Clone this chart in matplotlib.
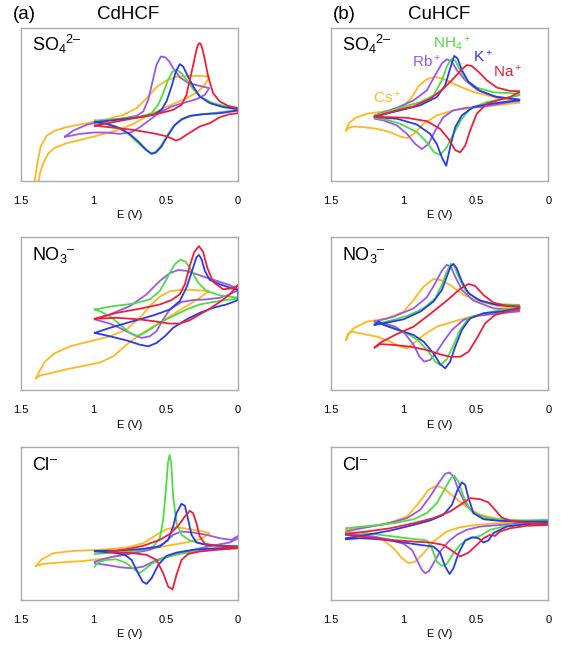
import matplotlib
matplotlib.use("Agg")
import matplotlib.pyplot as plt

# CVs: (E in V, current in a.u., 0-100 = box height)
# each list runs along the upper branch and back along the lower branch

# (a) CdHCF, sulfate
cd_so4_cs = [(1.41,-3.0),(1.387,11.6),(1.364,22.5),(1.323,29.5),(1.265,33.0),(1.185,35.2),(1.047,37.8),(0.909,40.4),(0.794,43.2),(0.702,47.6),(0.633,54.1),(0.564,61.4),(0.495,65.7),(0.426,68.1),(0.334,68.8),(0.242,68.6),(0.2,68.3),(0.2,67.9),(0.23,62.9),(0.276,58.5),(0.357,54.1),(0.449,50.4),(0.541,46.5),(0.633,42.1),(0.725,37.3),(0.84,33.0),(0.955,30.1),(1.07,27.3),(1.185,24.7),(1.265,21.8),(1.311,18.1),(1.346,11.6),(1.369,5.0),(1.382,-3.0)]
cd_so4_rb = [(1.196,29.0),(1.139,33.0),(1.047,36.7),(0.932,39.3),(0.794,41.0),(0.702,42.6),(0.656,45.4),(0.621,53.1),(0.591,65.1),(0.564,76.0),(0.534,81.4),(0.506,81.0),(0.476,78.2),(0.449,73.8),(0.403,67.9),(0.345,64.0),(0.265,62.2),(0.2,60.7),(0.23,56.3),(0.288,53.5),(0.368,51.3),(0.46,48.7),(0.541,44.8),(0.61,40.0),(0.679,35.2),(0.736,31.9),(0.817,30.8),(0.909,31.7),(1.0,31.7),(1.093,30.8),(1.162,29.5),(1.196,29.0)]
cd_so4_nh4 = [(0.99,39.5),(0.84,40.4),(0.68,42.1),(0.598,44.3),(0.552,49.8),(0.518,57.4),(0.483,66.2),(0.453,71.6),(0.426,72.7),(0.391,70.5),(0.357,66.2),(0.31,60.0),(0.253,54.6),(0.173,50.9),(0.081,48.7),(0.0,47.4),(0.0,46.5),(0.104,45.2),(0.219,43.9),(0.322,42.6),(0.391,40.0),(0.449,35.6),(0.495,29.0),(0.536,22.5),(0.575,18.8),(0.605,18.1),(0.644,20.7),(0.702,25.8),(0.759,30.8),(0.84,35.6),(0.932,38.4),(0.99,39.5)]
cd_so4_k = [(0.99,38.4),(0.84,40.0),(0.68,41.7),(0.587,43.2),(0.53,46.5),(0.495,52.0),(0.46,61.8),(0.43,71.6),(0.403,76.4),(0.38,74.9),(0.352,69.4),(0.31,61.8),(0.265,55.2),(0.196,50.9),(0.104,48.3),(0.0,46.9),(0.0,46.1),(0.127,44.3),(0.242,43.7),(0.334,42.6),(0.39,40.4),(0.437,36.7),(0.483,30.1),(0.53,22.5),(0.568,18.6),(0.598,17.7),(0.633,20.3),(0.69,25.8),(0.748,30.6),(0.817,34.5),(0.909,37.3),(0.99,38.4)]
cd_so4_na = [(0.99,36.2),(0.84,38.9),(0.68,41.7),(0.54,44.3),(0.45,46.5),(0.39,49.8),(0.357,56.3),(0.334,66.2),(0.31,76.0),(0.288,85.8),(0.276,89.3),(0.265,90.2),(0.255,89.0),(0.243,85.0),(0.23,79.3),(0.207,68.3),(0.173,57.4),(0.127,52.0),(0.069,49.1),(0.0,47.6),(0.0,44.3),(0.058,43.7),(0.127,41.7),(0.196,37.8),(0.265,35.6),(0.322,32.3),(0.368,29.5),(0.403,27.3),(0.43,26.4),(0.46,27.9),(0.506,29.5),(0.587,31.2),(0.725,33.4),(0.863,34.9),(0.99,36.2)]

# (a) CdHCF, nitrate
cd_no3_cs = [(1.396,7.7),(1.373,12.1),(1.334,18.7),(1.265,24.2),(1.162,28.6),(1.024,31.9),(0.886,35.2),(0.771,39.6),(0.679,47.3),(0.61,54.9),(0.541,61.1),(0.472,64.6),(0.403,65.5),(0.311,65.5),(0.2,64.8),(0.265,60.4),(0.357,54.9),(0.449,49.5),(0.564,42.9),(0.679,36.3),(0.771,29.7),(0.863,22.0),(0.955,18.0),(1.07,15.8),(1.185,13.6),(1.30,11.0),(1.369,9.5),(1.396,7.7)]
cd_no3_rb = [(0.99,46.6),(0.886,49.5),(0.748,54.9),(0.633,62.6),(0.541,71.4),(0.472,76.5),(0.414,78.5),(0.357,78.0),(0.288,75.8),(0.219,73.6),(0.127,70.8),(0.058,68.6),(0.0,65.9),(0.0,65.5),(0.058,62.6),(0.127,60.4),(0.219,59.3),(0.311,58.9),(0.391,57.6),(0.472,52.7),(0.518,46.2),(0.564,38.5),(0.61,35.2),(0.667,34.1),(0.725,36.3),(0.794,39.6),(0.886,43.5),(0.99,46.2)]
cd_no3_nh4 = [(0.99,52.7),(0.863,54.9),(0.725,56.5),(0.61,59.3),(0.541,64.8),(0.483,74.7),(0.437,82.4),(0.398,85.3),(0.363,84.0),(0.322,78.0),(0.276,70.3),(0.219,64.8),(0.127,62.0),(0.0,60.4),(0.0,59.8),(0.081,58.9),(0.173,57.6),(0.265,56.0),(0.357,52.7),(0.449,48.4),(0.541,44.0),(0.61,39.6),(0.667,36.3),(0.702,35.6),(0.748,37.4),(0.817,42.9),(0.886,48.4),(0.955,51.6),(0.99,52.7)]
cd_no3_k = [(0.99,37.4),(0.886,40.7),(0.725,45.1),(0.587,48.8),(0.472,52.7),(0.403,58.2),(0.357,67.0),(0.322,76.9),(0.288,86.8),(0.271,88.4),(0.253,85.7),(0.23,78.0),(0.196,72.1),(0.127,69.2),(0.058,67.0),(0.0,65.5),(0.0,58.9),(0.081,56.0),(0.173,53.8),(0.265,50.5),(0.357,46.2),(0.449,40.7),(0.506,35.2),(0.564,30.8),(0.621,28.6),(0.679,29.7),(0.771,32.5),(0.886,35.2),(0.99,37.4)]
cd_no3_na = [(0.99,46.6),(0.84,50.5),(0.68,53.2),(0.54,56.0),(0.46,58.9),(0.403,62.6),(0.368,69.2),(0.334,81.3),(0.304,90.1),(0.271,94.1),(0.242,90.5),(0.214,80.2),(0.173,70.8),(0.104,65.9),(0.035,66.6),(0.0,68.6),(0.058,62.6),(0.127,57.6),(0.196,53.2),(0.265,49.5),(0.334,45.7),(0.403,43.5),(0.472,43.5),(0.564,44.8),(0.679,46.2),(0.84,47.3),(0.99,46.6)]

# (a) CdHCF, chloride
cd_cl_cs = [(1.396,22.3),(1.357,26.6),(1.277,30.6),(1.139,32.1),(0.955,32.8),(0.771,34.3),(0.656,37.1),(0.564,42.6),(0.495,46.3),(0.426,47.6),(0.334,46.3),(0.242,44.8),(0.2,43.7),(0.2,43.2),(0.265,39.7),(0.357,37.6),(0.495,35.4),(0.633,32.8),(0.771,30.1),(0.909,27.3),(1.07,25.5),(1.231,24.5),(1.346,23.6),(1.396,22.3)]
cd_cl_rb = [(0.99,25.1),(0.886,27.9),(0.725,30.6),(0.61,32.8),(0.518,36.7),(0.449,42.6),(0.391,44.8),(0.311,44.1),(0.219,42.6),(0.127,40.4),(0.046,39.3),(0.0,41.9),(0.0,40.4),(0.058,37.6),(0.15,36.0),(0.265,33.8),(0.38,31.0),(0.495,28.4),(0.587,25.1),(0.656,21.8),(0.725,20.7),(0.817,21.4),(0.909,22.9),(0.99,24.0)]
cd_cl_nh4 = [(0.99,30.1),(0.84,31.0),(0.68,32.3),(0.587,34.9),(0.541,40.4),(0.518,52.4),(0.499,72.0),(0.485,89.5),(0.474,94.8),(0.462,89.5),(0.449,67.7),(0.426,50.2),(0.391,42.6),(0.334,38.9),(0.242,36.7),(0.127,35.6),(0.0,35.4),(0.0,34.3),(0.127,33.4),(0.265,32.1),(0.403,30.1),(0.518,27.3),(0.598,23.6),(0.656,19.2),(0.683,17.5),(0.713,19.7),(0.771,24.0),(0.84,26.6),(0.909,26.2),(0.955,25.1),(0.978,23.6),(0.99,21.8)]
cd_cl_k = [(0.99,32.1),(0.84,32.3),(0.68,33.2),(0.541,34.9),(0.483,39.3),(0.449,48.0),(0.426,56.8),(0.391,62.9),(0.368,61.6),(0.345,52.4),(0.322,42.6),(0.288,37.6),(0.219,36.0),(0.104,35.4),(0.0,34.9),(0.0,34.3),(0.15,33.8),(0.311,32.8),(0.426,31.0),(0.495,28.8),(0.552,22.9),(0.598,14.2),(0.633,10.5),(0.66,12.0),(0.697,18.6),(0.736,26.2),(0.782,29.5),(0.863,31.0),(0.99,31.7)]
cd_cl_na = [(0.90,31.4),(0.771,33.2),(0.656,35.4),(0.541,39.3),(0.472,43.2),(0.414,48.5),(0.368,54.6),(0.334,58.3),(0.311,56.8),(0.288,50.2),(0.265,41.5),(0.23,36.7),(0.15,35.4),(0.0,34.5),(0.0,33.8),(0.15,32.8),(0.265,31.7),(0.345,30.1),(0.391,26.2),(0.426,16.4),(0.453,7.0),(0.483,8.7),(0.518,17.5),(0.564,26.2),(0.633,29.5),(0.725,30.6),(0.817,31.0),(0.90,31.4)]

# (b) CuHCF, sulfate
cu_so4_cs = [(1.397,33.0),(1.378,37.8),(1.332,41.3),(1.252,44.0),(1.114,45.7),(0.999,48.8),(0.942,54.9),(0.896,62.0),(0.839,66.6),(0.781,68.1),(0.712,66.4),(0.632,62.6),(0.517,58.2),(0.379,54.9),(0.2,51.6),(0.2,51.2),(0.356,49.5),(0.517,47.9),(0.655,46.2),(0.77,42.9),(0.861,37.4),(0.93,30.8),(0.976,28.1),(1.022,29.0),(1.091,31.9),(1.183,34.1),(1.275,35.2),(1.344,35.6),(1.378,34.7),(1.397,33.0)]
cu_so4_rb = [(1.199,42.9),(1.045,47.9),(0.93,52.7),(0.839,59.3),(0.781,69.2),(0.735,76.9),(0.701,79.6),(0.666,78.0),(0.632,72.5),(0.574,65.9),(0.494,59.8),(0.379,55.4),(0.2,53.2),(0.2,52.7),(0.333,50.5),(0.471,48.4),(0.563,47.9),(0.655,46.2),(0.724,41.8),(0.781,33.0),(0.827,24.2),(0.873,20.9),(0.919,24.2),(0.976,30.8),(1.045,36.3),(1.137,39.6),(1.199,40.7)]
cu_so4_nh4 = [(1.199,42.6),(1.045,47.3),(0.884,51.6),(0.793,56.0),(0.735,65.9),(0.701,74.7),(0.673,79.6),(0.643,78.7),(0.609,72.5),(0.563,65.9),(0.494,61.1),(0.379,58.0),(0.2,57.1),(0.2,56.0),(0.287,54.3),(0.425,51.6),(0.54,47.3),(0.597,40.7),(0.655,30.8),(0.701,22.0),(0.747,17.1),(0.788,18.7),(0.839,25.3),(0.907,31.9),(1.022,37.4),(1.114,40.0),(1.199,41.3)]
cu_so4_k = [(1.199,42.2),(1.045,45.7),(0.884,49.5),(0.77,54.9),(0.712,62.6),(0.678,73.6),(0.65,81.8),(0.627,80.2),(0.597,72.5),(0.551,64.8),(0.471,58.9),(0.356,54.9),(0.2,53.2),(0.2,52.7),(0.31,51.6),(0.425,50.1),(0.517,48.4),(0.597,42.9),(0.643,35.2),(0.678,22.0),(0.705,9.9),(0.735,15.4),(0.77,24.2),(0.816,30.8),(0.907,36.9),(1.045,40.7),(1.199,41.8)]
cu_so4_na = [(1.199,41.8),(1.045,46.2),(0.93,48.8),(0.816,53.8),(0.724,60.4),(0.655,67.0),(0.597,73.0),(0.563,75.8),(0.528,75.2),(0.482,71.4),(0.425,65.9),(0.356,61.1),(0.264,58.9),(0.2,58.7),(0.2,58.2),(0.264,54.9),(0.333,53.2),(0.425,50.5),(0.494,44.0),(0.54,33.0),(0.574,23.1),(0.609,18.7),(0.643,20.2),(0.689,27.5),(0.747,34.1),(0.839,39.1),(0.976,41.3),(1.114,41.8),(1.199,41.8)]

# (b) CuHCF, nitrate
cu_no3_cs = [(1.397,32.8),(1.378,37.1),(1.344,40.4),(1.252,44.8),(1.114,46.9),(0.999,51.3),(0.93,59.0),(0.861,67.7),(0.793,72.7),(0.747,72.0),(0.678,68.8),(0.586,62.2),(0.471,57.9),(0.333,54.6),(0.2,53.5),(0.2,52.4),(0.356,50.7),(0.517,48.5),(0.655,44.8),(0.77,41.5),(0.861,36.0),(0.93,30.6),(0.976,27.3),(1.022,28.4),(1.091,31.7),(1.183,34.9),(1.298,37.1),(1.355,38.2),(1.383,36.7),(1.397,32.8)]
cu_no3_rb = [(1.199,44.8),(1.068,48.0),(0.93,53.5),(0.839,60.7),(0.781,69.9),(0.735,78.2),(0.701,81.9),(0.673,80.8),(0.643,74.2),(0.597,65.5),(0.517,58.5),(0.379,53.5),(0.2,52.0),(0.2,51.5),(0.333,50.2),(0.494,48.5),(0.586,45.9),(0.666,39.3),(0.724,31.7),(0.77,25.1),(0.816,19.7),(0.857,18.6),(0.889,21.8),(0.93,29.5),(0.988,36.7),(1.057,41.5),(1.137,43.7),(1.199,44.8)]
cu_no3_nh4 = [(1.199,43.2),(1.091,45.4),(0.976,48.5),(0.861,53.5),(0.781,60.0),(0.735,68.8),(0.701,77.5),(0.673,82.5),(0.65,81.2),(0.62,74.2),(0.574,65.5),(0.494,59.4),(0.379,56.3),(0.2,55.7),(0.2,54.1),(0.333,52.4),(0.448,50.2),(0.551,46.9),(0.609,39.3),(0.655,29.5),(0.701,20.1),(0.747,16.4),(0.781,18.6),(0.827,25.1),(0.896,32.3),(0.976,37.1),(1.091,41.0),(1.172,44.1),(1.199,43.2)]
cu_no3_k = [(1.199,42.6),(1.114,44.1),(0.999,46.3),(0.884,51.3),(0.793,57.9),(0.735,65.5),(0.701,74.2),(0.673,81.2),(0.655,82.5),(0.632,79.7),(0.597,71.0),(0.551,63.3),(0.471,58.5),(0.356,55.7),(0.2,54.6),(0.2,53.5),(0.333,51.3),(0.448,50.2),(0.54,46.9),(0.597,39.3),(0.643,28.4),(0.678,18.6),(0.712,14.2),(0.747,17.0),(0.793,24.0),(0.861,31.7),(0.93,36.0),(1.045,39.7),(1.137,42.6),(1.172,44.8),(1.199,42.6)]
cu_no3_na = [(1.199,27.9),(1.16,31.0),(1.045,36.7),(0.93,41.5),(0.816,49.8),(0.701,58.5),(0.609,66.2),(0.551,69.4),(0.505,68.1),(0.448,62.2),(0.379,57.2),(0.287,55.0),(0.2,54.6),(0.2,53.1),(0.287,51.3),(0.368,49.1),(0.436,43.7),(0.494,33.8),(0.551,25.1),(0.609,21.8),(0.678,21.8),(0.747,23.4),(0.839,26.2),(0.953,28.4),(1.068,29.5),(1.16,30.1),(1.199,27.9)]

# (b) CuHCF, chloride
cu_cl_cs = [(1.397,45.9),(1.229,48.0),(1.091,50.7),(0.976,54.6),(0.896,63.3),(0.827,72.0),(0.774,74.7),(0.724,73.1),(0.655,67.7),(0.563,60.7),(0.471,55.7),(0.333,52.8),(0.149,51.7),(0.0,51.7),(0.0,51.1),(0.195,50.7),(0.356,50.2),(0.494,49.1),(0.609,47.6),(0.701,44.8),(0.793,38.2),(0.861,30.6),(0.919,25.1),(0.965,24.0),(1.011,27.3),(1.068,33.8),(1.137,38.9),(1.252,41.9),(1.397,43.7)]
cu_cl_rb = [(1.397,44.8),(1.252,47.6),(1.114,49.8),(0.976,53.5),(0.884,59.0),(0.816,67.7),(0.758,76.4),(0.712,82.5),(0.682,83.4),(0.655,80.8),(0.62,72.0),(0.574,63.3),(0.517,56.8),(0.425,53.5),(0.287,51.7),(0.103,51.3),(0.0,51.3),(0.0,50.7),(0.149,50.2),(0.333,49.1),(0.471,48.0),(0.563,45.9),(0.632,42.6),(0.689,38.2),(0.747,31.7),(0.793,24.0),(0.827,18.6),(0.85,17.5),(0.873,19.7),(0.907,26.2),(0.942,32.8),(0.999,36.7),(1.091,39.3),(1.206,41.5),(1.321,42.6),(1.397,42.6)]
cu_cl_nh4 = [(1.397,46.9),(1.229,48.5),(1.068,50.2),(0.93,52.8),(0.839,56.8),(0.77,63.3),(0.712,73.1),(0.673,79.7),(0.65,81.2),(0.62,77.5),(0.586,67.7),(0.54,59.0),(0.471,54.6),(0.356,52.8),(0.195,52.0),(0.0,52.4),(0.0,51.3),(0.149,49.8),(0.287,48.5),(0.402,45.9),(0.471,41.9),(0.517,41.0),(0.563,39.3),(0.609,36.0),(0.655,30.6),(0.701,23.6),(0.735,22.3),(0.77,25.1),(0.804,33.8),(0.839,38.9),(0.907,39.7),(0.976,40.4),(1.068,41.5),(1.206,43.2),(1.321,44.1),(1.397,44.1)]
cu_cl_k = [(1.397,40.4),(1.252,42.6),(1.091,45.4),(0.93,49.1),(0.816,52.0),(0.724,55.7),(0.666,62.2),(0.627,72.0),(0.597,76.9),(0.574,75.3),(0.551,66.6),(0.517,56.8),(0.448,52.8),(0.333,51.7),(0.149,51.3),(0.0,51.3),(0.0,50.2),(0.149,49.6),(0.287,48.0),(0.379,43.7),(0.414,38.9),(0.448,37.6),(0.482,40.4),(0.528,41.0),(0.574,38.9),(0.62,30.6),(0.655,20.7),(0.682,17.0),(0.712,21.8),(0.747,31.0),(0.793,34.9),(0.884,36.0),(0.999,37.6),(1.16,39.7),(1.298,40.4),(1.397,39.7)]
cu_cl_na = [(1.397,43.2),(1.252,44.8),(1.091,46.9),(0.93,50.2),(0.793,53.5),(0.678,57.9),(0.597,62.9),(0.54,66.6),(0.471,65.9),(0.414,63.8),(0.368,59.0),(0.322,53.9),(0.241,51.3),(0.103,50.2),(0.0,49.8),(0.0,49.1),(0.149,48.5),(0.264,46.9),(0.333,44.8),(0.368,41.9),(0.402,42.6),(0.448,40.4),(0.494,36.0),(0.551,31.0),(0.609,28.4),(0.666,32.3),(0.724,36.0),(0.816,37.6),(0.93,38.2),(1.091,39.3),(1.252,41.0),(1.397,42.6)]

ions = ["Cs", "Rb", "NH4", "K", "Na"]
colors = {"Cs": "#ffb81f", "Rb": "#9a58e8", "NH4": "#4ddc44", "K": "#2a3be6", "Na": "#ee1f3a"}
xticks = [1.5, 1, 0.5, 0]
xticklabels = ["1.5", "1", "0.5", "0"]

plt.rcParams["font.family"] = ["Liberation Sans", "DejaVu Sans"]
plt.rcParams["mathtext.fontset"] = "custom"
plt.rcParams["mathtext.rm"] = "Liberation Sans"
plt.rcParams["mathtext.it"] = "Liberation Sans:italic"

fig = plt.figure(figsize=(5.67, 6.48), dpi=100)

# [left, bottom] of each box, in figure fractions
col_left = [0.037, 0.584]
row_bottom = [0.7207, 0.398, 0.0741]
w, h = 0.383, 0.236

panels = [
    (0, 0, "SO$_4$$^{2\u2013}$", [cd_so4_cs, cd_so4_rb, cd_so4_nh4, cd_so4_k, cd_so4_na]),
    (0, 1, "NO$_3$$^{\u2013}$", [cd_no3_cs, cd_no3_rb, cd_no3_nh4, cd_no3_k, cd_no3_na]),
    (0, 2, "Cl$^{\u2013}$", [cd_cl_cs, cd_cl_rb, cd_cl_nh4, cd_cl_k, cd_cl_na]),
    (1, 0, "SO$_4$$^{2\u2013}$", [cu_so4_cs, cu_so4_rb, cu_so4_nh4, cu_so4_k, cu_so4_na]),
    (1, 1, "NO$_3$$^{\u2013}$", [cu_no3_cs, cu_no3_rb, cu_no3_nh4, cu_no3_k, cu_no3_na]),
    (1, 2, "Cl$^{\u2013}$", [cu_cl_cs, cu_cl_rb, cu_cl_nh4, cu_cl_k, cu_cl_na]),
]

axes = {}
for col, row, anion, curves in panels:
    ax = fig.add_axes([col_left[col], row_bottom[row], w, h])
    for ion, pts in zip(ions, curves):
        E = [p[0] for p in pts]
        I = [p[1] for p in pts]
        ax.plot(E, I, color=colors[ion], lw=1.3, solid_joinstyle="round")
    ax.set_xlim(1.5, 0)
    ax.set_ylim(0, 100)
    ax.set_xticks(xticks)
    ax.set_xticklabels(xticklabels)
    ax.set_yticks([])
    ax.tick_params(axis="x", length=0, pad=11, labelsize=8, colors="black")
    ax.set_xlabel("E (V)", fontsize=8, labelpad=3, color="black")
    for s in ax.spines.values():
        s.set_color("#aaaaaa")
        s.set_linewidth(1.0)
    ax.text(0.05, 0.85, anion, transform=ax.transAxes, fontsize=13, va="baseline")
    axes[(col, row)] = ax

# cation labels in the CuHCF sulfate panel
ax = axes[(1, 0)]
ion_text = {"Cs": r"Cs$^+$", "Rb": r"Rb$^+$", "NH4": r"NH$_4$$^+$", "K": r"K$^+$", "Na": r"Na$^+$"}
ion_pos = {"Cs": (1.208, 51.2), "Rb": (0.942, 74.7), "NH4": (0.797, 86.7), "K": (0.52, 78.0), "Na": (0.382, 68.2)}
for ion in ions:
    ax.text(ion_pos[ion][0], ion_pos[ion][1], ion_text[ion], color=colors[ion],
            fontsize=11, ha="left", va="baseline")

fig.text(0.023, 0.971, "(a)", fontsize=13.5, va="baseline")
fig.text(0.226, 0.971, "CdHCF", fontsize=13.5, va="baseline", ha="center")
fig.text(0.587, 0.971, "(b)", fontsize=13.5, va="baseline")
fig.text(0.774, 0.971, "CuHCF", fontsize=13.5, va="baseline", ha="center")

fig.savefig("out.png", dpi=100)
